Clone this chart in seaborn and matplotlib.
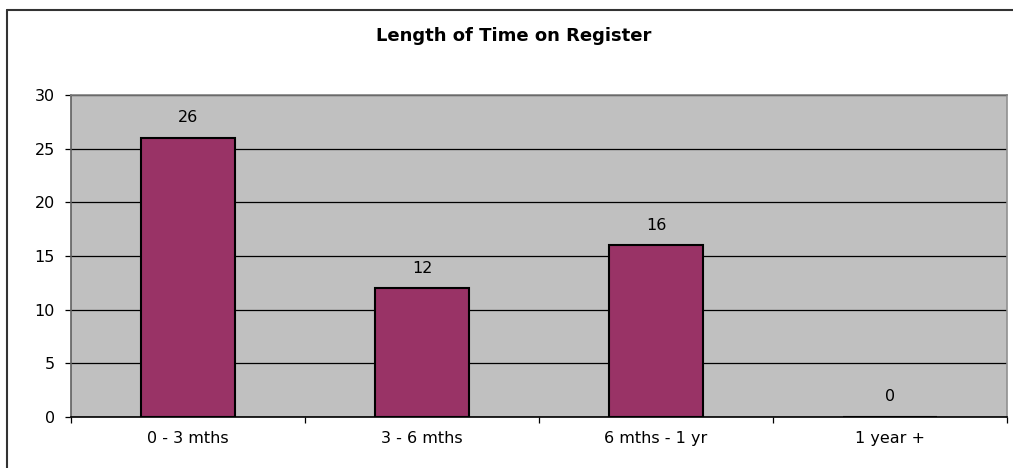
import seaborn as sns
import matplotlib.pyplot as plt
import matplotlib
from matplotlib.lines import Line2D
import pandas as pd

matplotlib.use('agg')

categories = ["0 - 3 mths", "3 - 6 mths", "6 mths - 1 yr", "1 year +"]
counts = [26, 12, 16, 0]
title = "Length of Time on Register"

df = pd.DataFrame({"period": categories, "count": counts})

sns.set_style('white')
plt.rcParams['font.family'] = ['DejaVu Sans']
plt.rcParams['text.color'] = 'black'
plt.rcParams['xtick.labelcolor'] = 'black'
plt.rcParams['ytick.labelcolor'] = 'black'

W, H = 1013, 468
fig = plt.figure(figsize=(W / 100, H / 100), dpi=100)
ax = fig.add_axes([71 / W, 1 - 417 / H, 936 / W, 322 / H])
ax.set_facecolor('#C0C0C0')

sns.barplot(data=df, x="period", y="count", ax=ax, color='#993366',
            saturation=1, width=0.4, edgecolor='black', linewidth=1.5, zorder=3)

for i, v in enumerate(counts):
    ax.annotate(str(v), (i, v), xytext=(0, 14.5), textcoords='offset points',
                ha='center', va='center', fontsize=11.5, color='black')

ax.set_ylim(0, 30)
ax.set_xlim(-0.5, 3.5)
ax.set_yticks(range(0, 31, 5))
ax.yaxis.grid(True, color='black', linewidth=0.9, zorder=0)
ax.set_axisbelow(True)
ax.set_xticks(range(4))
ax.set_xticklabels(categories)
ax.set_xticks([-0.5, 0.5, 1.5, 2.5, 3.5], minor=True)
ax.tick_params(axis='x', which='major', length=0, pad=10, labelsize=11.5, labelcolor='black')
ax.tick_params(axis='x', which='minor', length=4, width=0.9, color='black', direction='out', bottom=True)
ax.tick_params(axis='y', length=4.5, width=0.9, color='black', direction='out', left=True,
               labelsize=11.5, pad=7, labelcolor='black')
ax.set(xlabel='', ylabel='')

ax.spines['top'].set_color('#808080')
ax.spines['right'].set_color('#909090')
ax.spines['left'].set_color('#606060')
ax.spines['bottom'].set_color('black')
for s in ax.spines.values():
    s.set_linewidth(1.2)

fig.text(514 / W, 1 - 36 / H, title, ha='center', va='center', fontsize=13,
         fontweight='bold', color='black')

# outer chart border (only left and top fall inside the image)
fig.add_artist(Line2D([7 / W, 7 / W], [0, 1 - 10 / H], transform=fig.transFigure, color='#333333', linewidth=1.5))
fig.add_artist(Line2D([7 / W, 1], [1 - 10 / H, 1 - 10 / H], transform=fig.transFigure, color='#333333', linewidth=1.5))

fig.savefig('out.png', dpi=100)
plt.close(fig)
